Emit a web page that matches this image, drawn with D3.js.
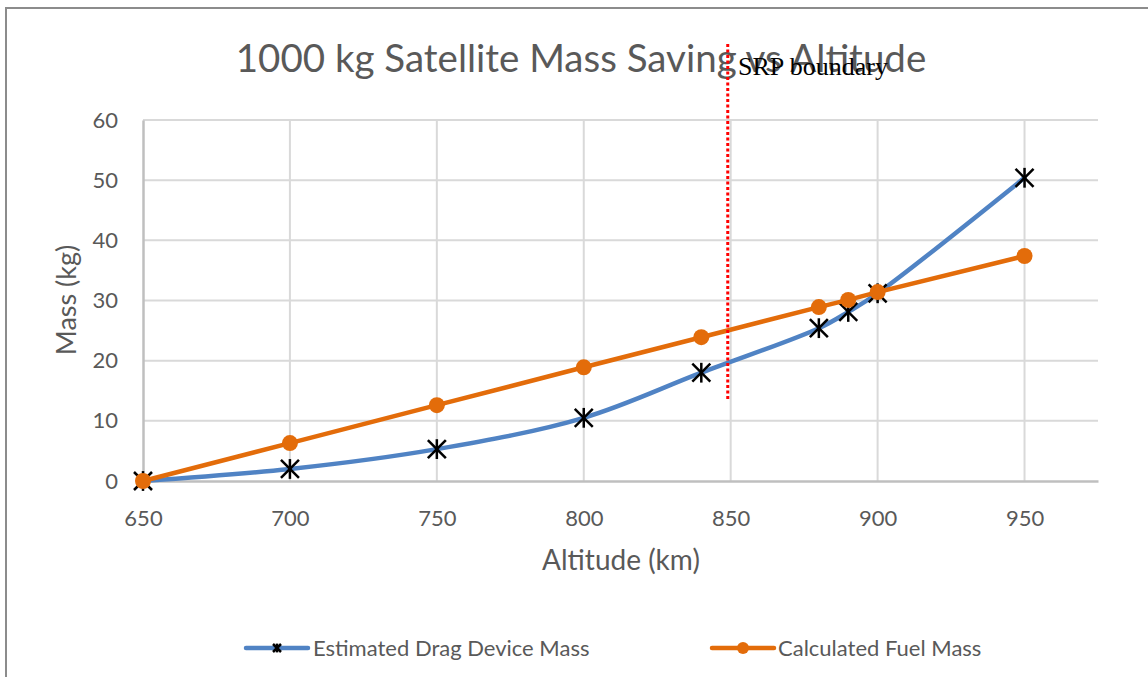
<!DOCTYPE html>
<html>
<head>
<meta charset="utf-8">
<script src="https://cdn.jsdelivr.net/npm/d3@7"></script>
<style>
	html, body { margin: 0; padding: 0; background: #fff; overflow: hidden; }
</style>
</head>
<body>
<div id="chart"></div>
<script>
"use strict";

// data
const altitudes = [650, 700, 750, 800, 840, 880, 890, 900, 950];
const dragDeviceMass = [0, 2.0, 5.3, 10.5, 18.0, 25.4, 28.1, 31.2, 50.4];
const fuelMass = [0, 6.3, 12.6, 18.9, 23.9, 28.9, 30.1, 31.4, 37.4];
const xTicks = [650, 700, 750, 800, 850, 900, 950];
const yTicks = [0, 10, 20, 30, 40, 50, 60];
const srpBoundary = 849;

const seriesNames = ["Estimated Drag Device Mass", "Calculated Fuel Mass"];
const title = "1000 kg Satellite Mass Saving vs Altitude";

const W = 1148, H = 677;
const blue = "#5083c4", orange = "#e36c0a";
const textColor = "#595959", gridColor = "#d9d9d9", axisColor = "#bfbfbf";
const sans = "Lato, 'Open Sans', sans-serif";
const serif = "'Liberation Serif', 'Times New Roman', serif";

const svg = d3.select("#chart")
	.append("svg")
	.attr("width", W)
	.attr("height", H)
	.style("font-family", sans);

// chart border (cropped at right and bottom)
svg.append("rect")
	.attr("x", 6).attr("y", 8)
	.attr("width", W + 20).attr("height", H + 20)
	.attr("fill", "#fff")
	.attr("stroke", "#8c8c8c")
	.attr("stroke-width", 2);

const x = d3.scaleLinear().domain([650, 975]).range([143, 1098]);
const y = d3.scaleLinear().domain([0, 60]).range([481, 120]);

// gridlines
svg.append("g")
	.selectAll("line.h")
	.data(yTicks.filter(d => d > 0))
	.enter()
	.append("line")
	.attr("x1", x(650)).attr("x2", x(975))
	.attr("y1", d => y(d)).attr("y2", d => y(d))
	.attr("stroke", gridColor)
	.attr("stroke-width", 2);

svg.append("g")
	.selectAll("line.v")
	.data(xTicks.filter(d => d > 650))
	.enter()
	.append("line")
	.attr("x1", d => x(d)).attr("x2", d => x(d))
	.attr("y1", y(0)).attr("y2", y(60))
	.attr("stroke", gridColor)
	.attr("stroke-width", 2);

// axes
const xAxis = svg.append("g")
	.attr("transform", "translate(0," + y(0) + ")")
	.call(d3.axisBottom(x).tickValues(xTicks).tickSize(0).tickPadding(29).tickFormat(d3.format("d")));
xAxis.select(".domain").attr("stroke", axisColor).attr("stroke-width", 2.5);
xAxis.selectAll("text")
	.attr("fill", textColor)
	.style("font-size", "22px")
	.style("font-family", sans);

const yAxis = svg.append("g")
	.attr("transform", "translate(" + x(650) + ",0)")
	.call(d3.axisLeft(y).tickValues(yTicks).tickSize(0).tickPadding(25));
yAxis.select(".domain").attr("stroke", axisColor).attr("stroke-width", 2.5);
yAxis.selectAll("text")
	.attr("fill", textColor)
	.style("font-size", "22px")
	.style("font-family", sans);

// axis titles
svg.append("text")
	.text("Altitude (km)")
	.attr("x", 621).attr("y", 570)
	.attr("text-anchor", "middle")
	.attr("fill", textColor)
	.style("font-size", "28px");

svg.append("text")
	.text("Mass (kg)")
	.attr("transform", "translate(76,300) rotate(-90)")
	.attr("text-anchor", "middle")
	.attr("fill", textColor)
	.style("font-size", "27px");

// title
svg.append("text")
	.text(title)
	.attr("x", 581).attr("y", 72)
	.attr("text-anchor", "middle")
	.attr("fill", textColor)
	.style("font-size", "38.5px");

// series
const points = (vals) => altitudes.map((a, i) => [a, vals[i]]);

const smooth = d3.line()
	.x(d => x(d[0])).y(d => y(d[1]))
	.curve(d3.curveCatmullRom);
const straight = d3.line()
	.x(d => x(d[0])).y(d => y(d[1]));

svg.append("path")
	.attr("d", smooth(points(dragDeviceMass)))
	.attr("fill", "none")
	.attr("stroke", blue)
	.attr("stroke-width", 4.5)
	.attr("stroke-linecap", "round");

const star = (g, s) => {
	g.append("line").attr("x1", -s).attr("y1", -s).attr("x2", s).attr("y2", s);
	g.append("line").attr("x1", -s).attr("y1", s).attr("x2", s).attr("y2", -s);
	g.append("line").attr("x1", 0).attr("y1", -s * 1.1).attr("x2", 0).attr("y2", s * 1.1);
	g.attr("stroke", "#000").attr("stroke-width", 2.5);
}

svg.append("g")
	.selectAll("g")
	.data(points(dragDeviceMass))
	.enter()
	.append("g")
	.attr("transform", d => "translate(" + x(d[0]) + "," + y(d[1]) + ")")
	.each(function () { star(d3.select(this), 9); });

svg.append("path")
	.attr("d", straight(points(fuelMass)))
	.attr("fill", "none")
	.attr("stroke", orange)
	.attr("stroke-width", 4.5)
	.attr("stroke-linejoin", "round");

svg.append("g")
	.selectAll("circle")
	.data(points(fuelMass))
	.enter()
	.append("circle")
	.attr("cx", d => x(d[0]))
	.attr("cy", d => y(d[1]))
	.attr("r", 8)
	.attr("fill", orange);

// SRP boundary marker
svg.append("line")
	.attr("x1", x(srpBoundary)).attr("x2", x(srpBoundary))
	.attr("y1", 44).attr("y2", 400)
	.attr("stroke", "#ff0000")
	.attr("stroke-width", 3)
	.attr("stroke-dasharray", "3,2.5");

svg.append("text")
	.text("SRP boundary")
	.attr("x", 738).attr("y", 75)
	.attr("fill", "#000")
	.style("font-family", serif)
	.style("font-size", "26px");

// legend
const legend = [
	{ name: seriesNames[0], color: blue, x1: 246, x2: 308, tx: 313 },
	{ name: seriesNames[1], color: orange, x1: 712, x2: 774, tx: 778 }
];
const ly = 648;
legend.forEach((l, i) => {
	svg.append("line")
		.attr("x1", l.x1).attr("x2", l.x2)
		.attr("y1", ly).attr("y2", ly)
		.attr("stroke", l.color)
		.attr("stroke-width", 4.5)
		.attr("stroke-linecap", "round");
	const cx = (l.x1 + l.x2) / 2;
	if (i == 0) {
		star(svg.append("g").attr("transform", "translate(" + cx + "," + ly + ")"), 4);
	} else {
		svg.append("circle").attr("cx", cx).attr("cy", ly).attr("r", 6).attr("fill", l.color);
	}
	svg.append("text")
		.text(l.name)
		.attr("x", l.tx).attr("y", ly + 8)
		.attr("fill", textColor)
		.style("font-size", "22px");
});
</script>
</body>
</html>
